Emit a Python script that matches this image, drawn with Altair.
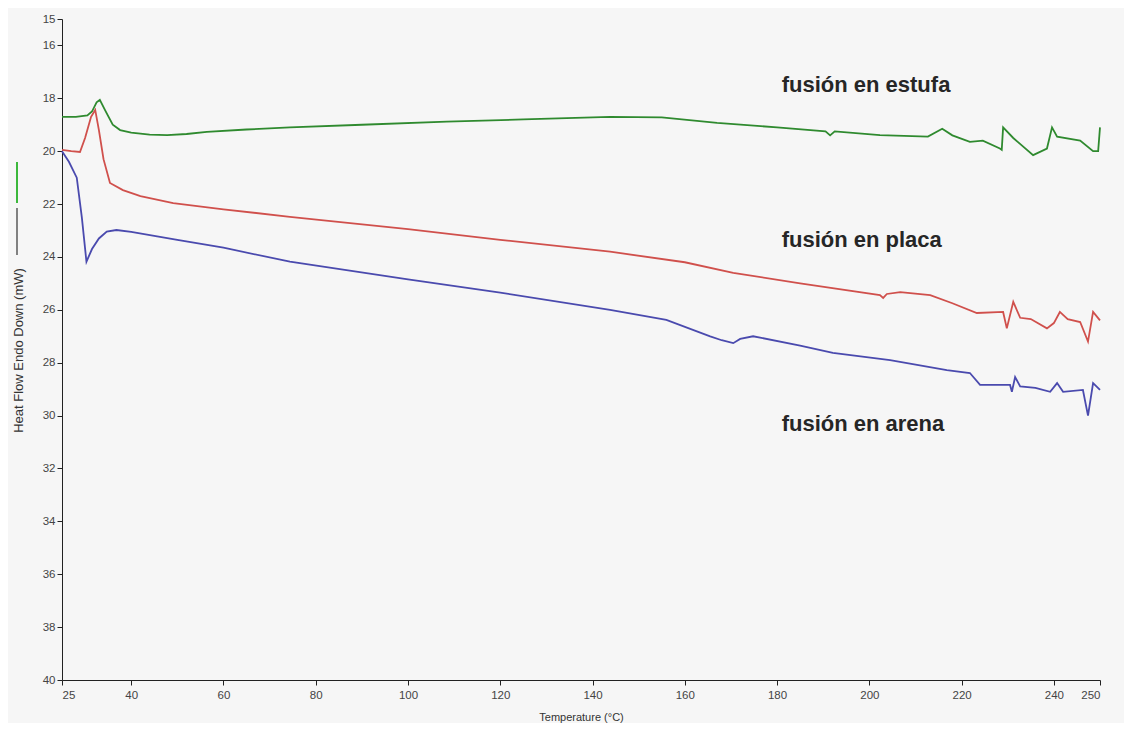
import altair as alt
import pandas as pd

# fusión en estufa (green)
t_estufa = [25, 28, 30.5, 31.5, 32.5, 33.2, 34.5, 36, 37.6, 40, 44, 47.8, 52, 56.4, 65, 74.4,
            90, 108.4, 125, 143.8, 155, 167, 180, 190.5, 191.5, 192.5, 202.3, 212.7, 215.8,
            218, 221.8, 224.6, 228.3, 228.7, 229, 231.2, 235.5, 238.5, 239.6, 240.7, 245.7,
            248.5, 249.6, 250]
v_estufa = [18.7, 18.7, 18.65, 18.5, 18.15, 18.06, 18.5, 19.0, 19.2, 19.3, 19.37, 19.39, 19.35,
            19.27, 19.18, 19.1, 19.0, 18.88, 18.8, 18.7, 18.72, 18.93, 19.1, 19.25, 19.4, 19.25,
            19.39, 19.45, 19.15, 19.4, 19.65, 19.6, 19.9, 19.95, 19.1, 19.5, 20.15, 19.9, 19.1,
            19.45, 19.6, 20.0, 20.0, 19.1]

# fusión en placa (red)
t_placa = [25, 27, 28.9, 30, 31.3, 32.2, 33, 34, 35.4, 38.2, 42, 49.1, 60, 74.4, 100, 120,
           143.8, 160, 170.5, 185, 202.3, 203, 203.8, 206.7, 213.2, 218, 223.3, 229, 229.8,
           231.2, 232.7, 235, 238.5, 240, 241.3, 243, 245.7, 247.4, 248.5, 250]
v_placa = [19.95, 20.0, 20.03, 19.5, 18.7, 18.44, 19.2, 20.3, 21.2, 21.47, 21.7, 21.96, 22.2,
           22.48, 22.95, 23.35, 23.8, 24.2, 24.6, 25.0, 25.44, 25.55, 25.4, 25.33, 25.44, 25.75,
           26.12, 26.08, 26.7, 25.7, 26.3, 26.35, 26.7, 26.5, 26.08, 26.35, 26.46, 27.2, 26.08,
           26.4]

# fusión en arena (blue)
t_arena = [25, 26.5, 28.2, 29.3, 30.3, 31.5, 33, 34.7, 36.8, 40, 50, 60, 74.4, 100, 120, 143.8,
           156, 165.5, 168, 170.5, 172, 174.8, 185, 192.1, 204.5, 216.8, 221.8, 224, 230.5,
           230.9, 231.6, 232.7, 236, 239.2, 240.7, 242, 246.3, 247.4, 248.5, 250]
v_arena = [20.0, 20.4, 21.0, 22.5, 24.18, 23.7, 23.3, 23.04, 22.98, 23.05, 23.35, 23.65, 24.18,
           24.85, 25.35, 26.0, 26.38, 27.0, 27.15, 27.26, 27.1, 27.0, 27.35, 27.63, 27.9, 28.28,
           28.39, 28.84, 28.84, 29.1, 28.54, 28.9, 28.95, 29.1, 28.77, 29.1, 29.03, 30.0, 28.77,
           29.03]

series_names = ["estufa", "placa", "arena"]
series_colors = ["#2f8a2f", "#d0504c", "#4a4aae"]

label_texts = ["fusión en estufa", "fusión en placa", "fusión en arena"]
label_t = [181, 181, 181]
label_v = [17.5, 23.35, 30.3]

x_ticks = [25, 40, 60, 80, 100, 120, 140, 160, 180, 200, 220, 240, 250]
y_ticks = [15, 16, 18, 20, 22, 24, 26, 28, 30, 32, 34, 36, 38, 40]

rows = []
for name, ts, vs in [("estufa", t_estufa, v_estufa), ("placa", t_placa, v_placa),
                     ("arena", t_arena, v_arena)]:
    for i, (t, v) in enumerate(zip(ts, vs)):
        rows.append({"serie": name, "t": t, "v": v, "i": i})
df = pd.DataFrame(rows)
labels_df = pd.DataFrame({"text": label_texts, "t": label_t, "v": label_v})

xscale = alt.Scale(domain=[25, 250], nice=False, zero=False)
yscale = alt.Scale(domain=[15, 40], nice=False, zero=False, reverse=True)

lines = alt.Chart(df).mark_line(strokeWidth=1.8).encode(
    x=alt.X("t:Q", scale=xscale,
            axis=alt.Axis(values=x_ticks, title="Temperature (°C)", titleY=42,
                          titleBaseline="bottom", labelPadding=4, titleFontSize=11)),
    y=alt.Y("v:Q", scale=yscale,
            axis=alt.Axis(values=y_ticks, title="Heat Flow Endo Down (mW)",
                          titleX=-44, titleY=331, titleAngle=-90, titleAlign="center",
                          titleBaseline="middle", titleFontSize=13)),
    color=alt.Color("serie:N", scale=alt.Scale(domain=series_names, range=series_colors),
                    legend=None),
    order=alt.Order("i:Q"),
)

texts = alt.Chart(labels_df).mark_text(
    align="left", baseline="middle", fontSize=22, fontWeight="bold",
    font="Liberation Sans", color="#262626"
).encode(x=alt.X("t:Q", scale=xscale), y=alt.Y("v:Q", scale=yscale), text="text:N")

green_mark = alt.Chart(pd.DataFrame({"k": [0]})).mark_rule(
    color="#3cb83c", strokeWidth=2).encode(
    x=alt.value(-45), y=alt.value(143), y2=alt.value(184))
black_mark = alt.Chart(pd.DataFrame({"k": [0]})).mark_rule(
    color="#333333", strokeWidth=1.2).encode(
    x=alt.value(-45), y=alt.value(189), y2=alt.value(236))

chart = alt.layer(lines, texts, green_mark, black_mark).properties(
    width=1038, height=661,
    autosize=alt.AutoSizeParams(type="none"),
    padding={"left": 54, "top": 11, "right": 24, "bottom": 43},
    background="#f6f6f6",
).configure_view(stroke=None).configure_axis(
    grid=False, domainColor="#222222", tickColor="#222222", tickSize=5,
    labelColor="#444444", labelFont="Liberation Sans", labelFontSize=11.5,
    titleFont="Liberation Sans", titleFontWeight="normal",
    titleColor="#333333",
)

chart.save("out.html", embed_options={"renderer": "svg", "actions": False})
